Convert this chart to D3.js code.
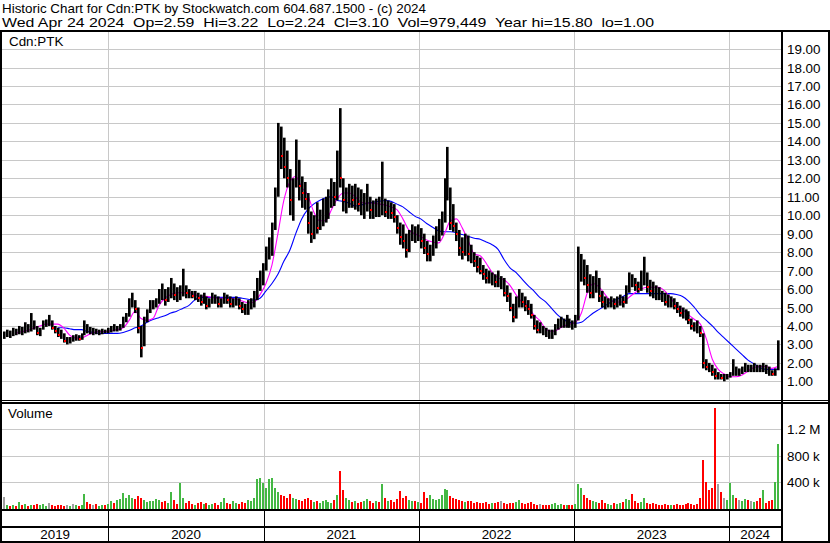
<!DOCTYPE html>
<html><head><meta charset="utf-8">
<script src="https://cdn.jsdelivr.net/npm/d3@7/dist/d3.min.js"></script>
<style>
html,body{margin:0;padding:0;background:#fff;}
svg{display:block;font-family:"Liberation Sans",Arial,sans-serif;}
</style></head><body>
<svg id="c" width="830" height="543"></svg>
<script>
// ---------- DATA ----------
const headerLine1 = "Historic Chart for Cdn:PTK by Stockwatch.com 604.687.1500 - (c) 2024";
const headerLine2 = "Wed Apr 24 2024  Op=2.59  Hi=3.22  Lo=2.24  Cl=3.10  Vol=979,449  Year hi=15.80  lo=1.00";
const symbolLabel = "Cdn:PTK";
const volumeLabel = "Volume";
const priceTicks = [1,2,3,4,5,6,7,8,9,10,11,12,13,14,15,16,17,18,19];
const volumeTicks = [400000, 800000, 1200000];
const volumeTickLabels = ["400 k", "800 k", "1.2 M"];
const yearLabels = ["2019","2020","2021","2022","2023","2024"];
const firstWeek = "2019-05-01";   // weekly bars (Wednesdays)
const lastWeek  = "2024-04-24";

const high = [
3.7,3.8,3.75,3.9,3.85,4.0,3.95,4.2,4.1,4.7,
4.3,4.0,3.9,4.3,4.35,4.6,4.3,4.0,3.9,3.8,
3.6,3.4,3.4,3.5,3.55,3.5,3.6,4.3,4.1,3.95,
3.9,3.85,3.8,3.85,3.8,3.9,4.0,4.1,4.0,4.1,
4.5,4.7,5.5,5.8,5.4,5.0,4.0,4.5,4.9,5.4,
5.4,5.5,6.0,6.3,6.0,6.1,6.6,6.3,6.1,6.2,
7.1,6.2,6.0,5.9,5.9,5.8,5.7,5.8,5.6,5.5,
5.8,5.7,5.6,5.5,5.8,5.7,5.6,5.5,5.6,5.5,
5.3,5.2,5.4,5.5,5.9,6.6,7.0,7.4,8.3,8.8,
9.6,11.5,15.0,14.8,14.2,13.5,12.5,12.0,14.1,13.0,
12.1,11.8,11.2,10.2,10.0,10.7,10.3,10.9,11.0,11.4,
12.0,11.8,13.5,15.8,12.0,11.5,11.7,11.6,11.7,11.5,
11.4,11.2,11.7,11.0,10.8,10.9,11.0,12.9,10.9,10.8,
10.7,10.6,10.0,9.6,9.5,9.0,9.2,9.5,9.4,9.5,
9.3,9.0,8.6,8.4,8.9,9.4,9.8,10.2,12.0,13.7,
11.5,10.6,9.6,9.2,8.8,9.0,8.9,8.4,8.0,7.8,
7.7,7.3,7.1,7.0,6.9,6.8,7.0,6.7,6.6,6.2,
5.8,5.2,5.6,6.0,5.8,5.6,5.4,5.2,4.6,4.3,
4.2,4.0,3.9,3.8,3.8,4.1,4.4,4.5,4.4,4.6,
4.4,4.3,4.6,8.3,7.9,7.6,7.3,6.8,6.7,7.0,
6.6,5.9,5.6,5.5,5.6,5.5,5.6,5.7,5.6,6.2,
6.9,6.8,6.6,6.4,7.0,7.75,6.9,6.5,6.4,6.2,
6.1,5.9,5.8,5.7,5.6,5.5,5.3,5.1,5.0,4.9,
4.8,4.4,4.2,4.3,4.0,3.6,2.2,2.0,1.9,1.7,
1.5,1.4,1.4,1.4,1.5,2.2,1.8,1.7,1.8,2.0,
1.9,1.9,2.0,1.9,1.9,2.0,1.9,1.8,1.6,1.7,3.22];

const low = [
3.3,3.4,3.35,3.45,3.5,3.55,3.5,3.6,3.65,3.7,
3.8,3.5,3.45,3.8,3.95,4.0,3.8,3.6,3.4,3.3,
3.1,3.0,3.05,3.15,3.2,3.2,3.25,3.5,3.6,3.55,
3.5,3.55,3.5,3.55,3.6,3.6,3.65,3.7,3.7,3.75,
3.9,4.2,4.5,5.0,4.7,3.6,2.3,2.9,4.2,4.7,
4.9,5.0,5.2,5.4,5.1,5.3,5.5,5.4,5.3,5.4,
5.6,5.5,5.5,5.5,5.4,5.3,5.1,5.2,4.9,5.0,
5.2,5.2,5.0,5.0,5.2,5.2,5.0,5.0,5.1,4.9,
4.7,4.6,4.6,4.9,5.0,5.4,5.9,6.2,7.0,7.6,
7.8,9.2,11.0,12.5,12.0,11.5,10.0,9.7,11.5,10.8,
10.4,10.3,9.0,8.5,8.7,9.0,9.2,9.4,9.6,9.8,
10.4,10.5,10.8,11.5,10.2,10.1,10.4,10.4,10.3,10.2,
10.0,9.8,10.2,9.8,9.8,9.9,9.9,10.0,9.9,9.8,
9.8,9.6,9.0,8.4,8.2,7.7,8.0,8.6,8.5,8.6,
8.2,7.9,7.5,7.5,7.8,8.2,8.6,8.9,9.6,10.8,
9.2,9.1,8.6,7.8,7.6,7.8,7.5,7.4,7.2,6.9,
6.8,6.5,6.3,6.3,6.2,6.1,6.1,6.0,5.6,5.3,
4.8,4.2,4.4,5.0,5.0,4.8,4.6,4.4,3.8,3.6,
3.6,3.5,3.4,3.3,3.3,3.5,3.8,3.9,3.9,3.9,
3.9,3.8,3.9,4.3,6.4,6.2,5.8,5.5,5.5,5.8,
5.3,5.0,4.9,5.0,5.0,4.9,5.0,5.1,5.0,5.2,
5.8,6.1,5.9,5.8,5.9,6.2,5.8,5.6,5.5,5.4,
5.4,5.3,5.1,5.0,5.0,4.9,4.7,4.5,4.4,4.3,
4.1,3.8,3.7,3.6,3.4,1.7,1.6,1.5,1.3,1.1,
1.1,1.1,1.0,1.1,1.2,1.3,1.3,1.3,1.4,1.5,
1.5,1.5,1.5,1.5,1.5,1.5,1.4,1.3,1.3,1.3,1.6];

const close = [
3.5,3.6,3.55,3.7,3.65,3.8,3.7,3.9,3.85,4.0,
3.9,3.6,3.8,4.1,4.2,4.2,3.9,3.7,3.5,3.4,
3.2,3.2,3.3,3.3,3.4,3.3,3.5,3.9,3.8,3.7,
3.7,3.65,3.7,3.75,3.7,3.8,3.9,3.85,3.9,4.0,
4.3,4.5,5.2,5.3,4.9,3.9,2.8,4.3,4.7,5.1,
5.2,5.3,5.8,5.7,5.4,5.8,6.0,5.7,5.6,5.9,
6.0,5.8,5.7,5.6,5.7,5.5,5.3,5.6,5.1,5.3,
5.5,5.4,5.2,5.3,5.6,5.4,5.2,5.3,5.4,5.1,
4.9,4.8,5.2,5.3,5.6,6.2,6.5,7.0,7.9,8.2,
9.3,11.0,13.8,13.2,12.6,12.0,10.8,11.5,12.8,11.6,
11.2,10.9,9.6,9.0,9.5,9.3,9.8,10.2,10.5,10.8,
11.2,11.0,12.2,12.0,10.8,10.9,11.0,10.8,11.1,10.6,
10.5,10.6,10.9,10.3,10.2,10.4,10.3,10.6,10.2,10.3,
10.1,9.9,9.3,8.8,8.6,8.1,8.8,9.0,8.9,9.1,
8.6,8.2,7.9,8.0,8.5,9.0,9.3,9.8,11.0,11.4,
9.6,9.4,9.0,8.2,8.0,8.4,7.9,7.8,7.5,7.2,
7.0,6.8,6.6,6.5,6.6,6.4,6.3,6.3,5.8,5.6,
5.0,4.5,5.2,5.5,5.3,5.1,4.9,4.6,4.0,3.8,
3.8,3.7,3.6,3.5,3.6,3.9,4.1,4.2,4.1,4.2,
4.1,4.0,4.4,6.8,7.0,6.6,6.2,5.8,6.2,6.4,
5.6,5.3,5.2,5.3,5.4,5.2,5.4,5.5,5.3,5.9,
6.5,6.4,6.2,6.0,6.6,6.8,6.1,5.9,5.8,5.7,
5.6,5.5,5.3,5.2,5.3,5.1,4.9,4.7,4.6,4.5,
4.3,4.0,3.9,3.8,3.6,2.0,1.8,1.7,1.5,1.3,
1.3,1.2,1.2,1.3,1.4,1.6,1.5,1.5,1.6,1.8,
1.7,1.7,1.8,1.7,1.6,1.7,1.6,1.5,1.4,1.5,3.10];

// peak daily volume within each week, thousands of shares
const volumeK = [
170,40,30,50,35,90,40,60,30,45,
50,60,40,55,35,70,45,30,50,40,
35,45,30,60,40,35,50,210,90,60,
40,55,35,50,45,60,110,80,120,140,
230,160,200,150,130,180,150,120,90,110,
100,130,120,90,110,80,250,120,60,380,
150,70,100,60,50,80,90,60,70,50,
60,80,50,90,150,70,60,100,80,60,
90,70,120,100,150,440,460,380,300,440,
460,300,250,200,180,160,220,150,140,120,
100,130,150,120,90,110,80,100,120,90,
80,120,200,560,280,150,120,90,110,80,
90,100,130,110,80,100,90,370,150,100,
120,90,130,260,150,180,120,100,110,90,
80,240,150,200,130,120,140,200,290,270,
180,150,130,120,100,90,110,100,80,90,
80,70,90,60,80,70,90,100,80,60,
70,80,90,120,80,60,70,90,60,50,
60,50,40,50,60,70,50,60,40,50,
40,50,60,360,300,200,150,120,100,90,
80,120,70,60,50,80,60,70,90,140,
120,220,100,80,90,150,70,60,80,60,
50,40,60,50,40,50,60,40,50,60,
70,60,50,60,150,740,400,280,300,1530,
370,250,150,120,380,200,150,120,100,130,
120,100,90,110,150,280,80,100,120,400,979];

// moving averages read every second week (magenta short, blue long)
const maShort = [
null,null,3.6,3.7,3.75,3.9,4.0,4.1,4.1,4.1,
3.9,3.5,3.35,3.35,3.5,3.65,3.7,3.7,3.75,3.8,
3.9,4.3,4.8,4.4,4.3,4.4,5.1,5.5,5.7,5.8,
5.8,5.8,5.7,5.6,5.6,5.55,5.5,5.5,5.5,5.45,
5.35,5.25,5.3,5.7,6.3,7.3,9.0,10.8,11.8,12.1,
11.5,11.1,10.2,9.7,9.7,10.3,10.9,11.2,11.2,11.0,
10.7,10.65,10.65,10.6,10.55,10.45,10.3,9.8,9.2,9.0,
8.85,8.65,8.55,8.5,9.0,9.7,9.8,9.3,8.6,7.9,
7.8,7.4,6.9,6.6,6.5,6.2,5.7,5.3,5.1,4.6,
4.3,3.85,3.7,3.8,4.0,4.1,4.2,4.7,5.8,6.3,
6.1,5.7,5.35,5.3,5.3,5.55,5.8,6.0,6.1,6.1,
6.1,5.9,5.5,5.1,4.9,4.6,4.35,4.1,3.3,2.2,
1.65,1.4,1.25,1.25,1.35,1.55,1.75,1.8,1.8,1.7,
1.8];
const maLong = [
null,null,null,null,null,null,null,null,null,3.9,
3.9,3.85,3.8,3.8,3.7,3.65,3.6,3.6,3.6,3.6,
3.65,3.75,3.9,4.0,4.2,4.35,4.45,4.55,4.7,4.8,
4.95,5.1,5.4,5.55,5.55,5.55,5.55,5.55,5.55,5.55,
5.5,5.45,5.4,5.5,5.9,6.3,6.8,7.5,8.1,9.0,
9.8,10.3,10.6,10.8,10.95,11.0,10.8,10.75,10.65,10.5,
10.55,10.65,10.7,10.75,10.8,10.75,10.6,10.45,10.2,9.95,
9.8,9.55,9.35,9.15,9.1,9.1,9.05,8.95,8.85,8.75,
8.7,8.55,8.4,8.15,7.6,7.15,6.9,6.55,6.2,5.9,
5.55,5.3,4.95,4.6,4.35,4.2,4.15,4.2,4.45,4.7,
4.9,5.1,5.3,5.45,5.6,5.75,5.75,5.75,5.75,5.75,
5.75,5.75,5.75,5.7,5.6,5.35,5.0,4.6,4.3,4.0,
3.65,3.35,3.05,2.75,2.45,2.15,1.95,1.75,1.65,1.65,
1.65];

// ---------- BUILD ----------
const svg = d3.select("#c");
const W = 830, H = 543;
const plotL = 2, plotR = 781;
const priceTop = 32, priceBot = 400;
const volTop = 404, volBot = 509;

const weekDates = d3.utcWednesday.range(new Date(firstWeek + "T00:00:00Z"), new Date(lastWeek + "T00:00:01Z"));
const n = Math.min(weekDates.length, high.length, low.length, close.length, volumeK.length);
const bars = d3.range(n).map(i => ({date: weekDates[i], high: high[i], low: low[i], close: close[i], vol: volumeK[i] * 1000, prev: i > 0 ? close[i-1] : close[i]}));
const maDates = weekDates.filter((d, i) => i % 2 === 0);

const x = d3.scaleUtc()
  .domain([new Date("2020-01-01T00:00:00Z"), new Date("2024-01-01T00:00:00Z")])
  .range([108.3, 729.3]);
const y = d3.scaleLinear().domain([0, 20]).range([399.8, 30.6]);
const yv = d3.scaleLinear().domain([0, 1600000]).range([508, 403.2]);

const grid = "#c8c8c8";

// header
svg.append("text").attr("x", 2).attr("y", 13).attr("font-size", 13.4)
  .attr("textLength", 424).attr("lengthAdjust", "spacingAndGlyphs").attr("fill", "#000").text(headerLine1);
svg.append("text").attr("x", 2).attr("y", 27).attr("font-size", 13.4)
  .attr("textLength", 652).attr("lengthAdjust", "spacingAndGlyphs")
  .attr("fill", "#000").attr("xml:space", "preserve").style("white-space", "pre").text(headerLine2);

// clip for plot area
svg.append("clipPath").attr("id", "pclip").append("rect").attr("x", plotL).attr("y", priceTop).attr("width", plotR - plotL).attr("height", priceBot - priceTop);
svg.append("clipPath").attr("id", "vclip").append("rect").attr("x", plotL).attr("y", volTop).attr("width", plotR - plotL).attr("height", volBot - volTop);

// horizontal price gridlines
svg.append("g").selectAll("line").data(priceTicks).join("line")
  .attr("x1", plotL).attr("x2", plotR)
  .attr("y1", d => Math.round(y(d)) + 0.5).attr("y2", d => Math.round(y(d)) + 0.5)
  .attr("stroke", grid).attr("stroke-width", 1);
// horizontal volume gridlines
svg.append("g").selectAll("line").data(volumeTicks).join("line")
  .attr("x1", plotL).attr("x2", plotR)
  .attr("y1", d => Math.round(yv(d)) + 0.5).attr("y2", d => Math.round(yv(d)) + 0.5)
  .attr("stroke", grid).attr("stroke-width", 1);

// vertical year gridlines
const yearStarts = d3.utcYear.range(new Date("2020-01-01T00:00:00Z"), new Date("2024-06-01T00:00:00Z"));
const vg = svg.append("g");
yearStarts.forEach(d => {
  const xx = Math.round(x(d)) + 0.5;
  vg.append("line").attr("x1", xx).attr("x2", xx).attr("y1", priceTop).attr("y2", priceBot).attr("stroke", grid);
  vg.append("line").attr("x1", xx).attr("x2", xx).attr("y1", volTop).attr("y2", volBot).attr("stroke", grid);
  vg.append("line").attr("x1", xx).attr("x2", xx).attr("y1", 510).attr("y2", 541).attr("stroke", "#000").attr("stroke-width", 1);
});

// volume bars
svg.append("g").attr("clip-path", "url(#vclip)").selectAll("rect").data(bars).join("rect")
  .attr("x", d => Math.round(x(d.date)) - 1)
  .attr("width", 2)
  .attr("y", d => yv(d.vol))
  .attr("height", d => 509 - yv(d.vol))
  .attr("fill", d => d.close > d.prev ? "#44b844" : (d.close < d.prev ? "#ff0000" : "#a0a0a0"))
  .attr("shape-rendering", "crispEdges");

// moving averages
const maLine = d3.line().defined(d => d[1] != null).x(d => x(d[0])).y(d => y(d[1])).curve(d3.curveMonotoneX);
const pg = svg.append("g").attr("clip-path", "url(#pclip)");
pg.append("path").datum(maDates.map((d, i) => [d, maLong[i]])).attr("d", maLine)
  .attr("fill", "none").attr("stroke", "#0000ff").attr("stroke-width", 1.1);
pg.append("path").datum(maDates.map((d, i) => [d, maShort[i]])).attr("d", maLine)
  .attr("fill", "none").attr("stroke", "#ff00ff").attr("stroke-width", 1.1);

// price bars (high-low)
pg.append("g").selectAll("rect").data(bars).join("rect")
  .attr("x", d => Math.round(x(d.date)) - 1)
  .attr("width", 2.6)
  .attr("y", d => y(d.high))
  .attr("height", d => Math.max(1, y(d.low) - y(d.high)))
  .attr("fill", "#000");
// close marks on down weeks
pg.append("g").selectAll("rect").data(bars.filter(d => d.close < d.prev - 0.15 || (d.close < d.prev && d.close - d.low < 0.1))).join("rect")
  .attr("x", d => Math.round(x(d.date)))
  .attr("width", 1.5)
  .attr("y", d => Math.round(y(d.close)) - 1)
  .attr("height", 2)
  .attr("fill", "#ff0000")
  .attr("shape-rendering", "crispEdges");

// frame
const frame = svg.append("g").attr("fill", "#000").attr("shape-rendering", "crispEdges");
frame.append("rect").attr("x", 0).attr("y", 30).attr("width", W).attr("height", 2);
frame.append("rect").attr("x", 0).attr("y", 30).attr("width", 2).attr("height", H - 30);
frame.append("rect").attr("x", 828).attr("y", 30).attr("width", 2).attr("height", H - 30);
frame.append("rect").attr("x", 781).attr("y", 30).attr("width", 2).attr("height", H - 30);
frame.append("rect").attr("x", 0).attr("y", 400).attr("width", W).attr("height", 1);
frame.append("rect").attr("x", 0).attr("y", 402).attr("width", W).attr("height", 2);
frame.append("rect").attr("x", 0).attr("y", 509).attr("width", 782).attr("height", 2);
frame.append("rect").attr("x", 0).attr("y", 526).attr("width", 782).attr("height", 2);
frame.append("rect").attr("x", 0).attr("y", 541).attr("width", W).attr("height", 2);

// panel labels
svg.append("text").attr("x", 9).attr("y", 46).attr("font-size", 13.4).text(symbolLabel);
svg.append("text").attr("x", 8).attr("y", 418).attr("font-size", 13.4).text(volumeLabel);

// right axes
svg.append("g").selectAll("text").data(priceTicks).join("text")
  .attr("x", 787).attr("y", d => y(d) + 5).attr("font-size", 13.4)
  .text(d => d3.format(".2f")(d));
svg.append("g").selectAll("text").data(volumeTicks).join("text")
  .attr("x", 787).attr("y", d => yv(d) + 5).attr("font-size", 13.4)
  .text((d, i) => volumeTickLabels[i]);

// year labels centred in their segments
const bounds = [plotL, ...yearStarts.map(d => x(d)), plotR];
svg.append("g").selectAll("text").data(yearLabels).join("text")
  .attr("x", (d, i) => (bounds[i] + bounds[i+1]) / 2)
  .attr("y", 539).attr("text-anchor", "middle").attr("font-size", 13.4)
  .text(d => d);
</script>
</body></html>
